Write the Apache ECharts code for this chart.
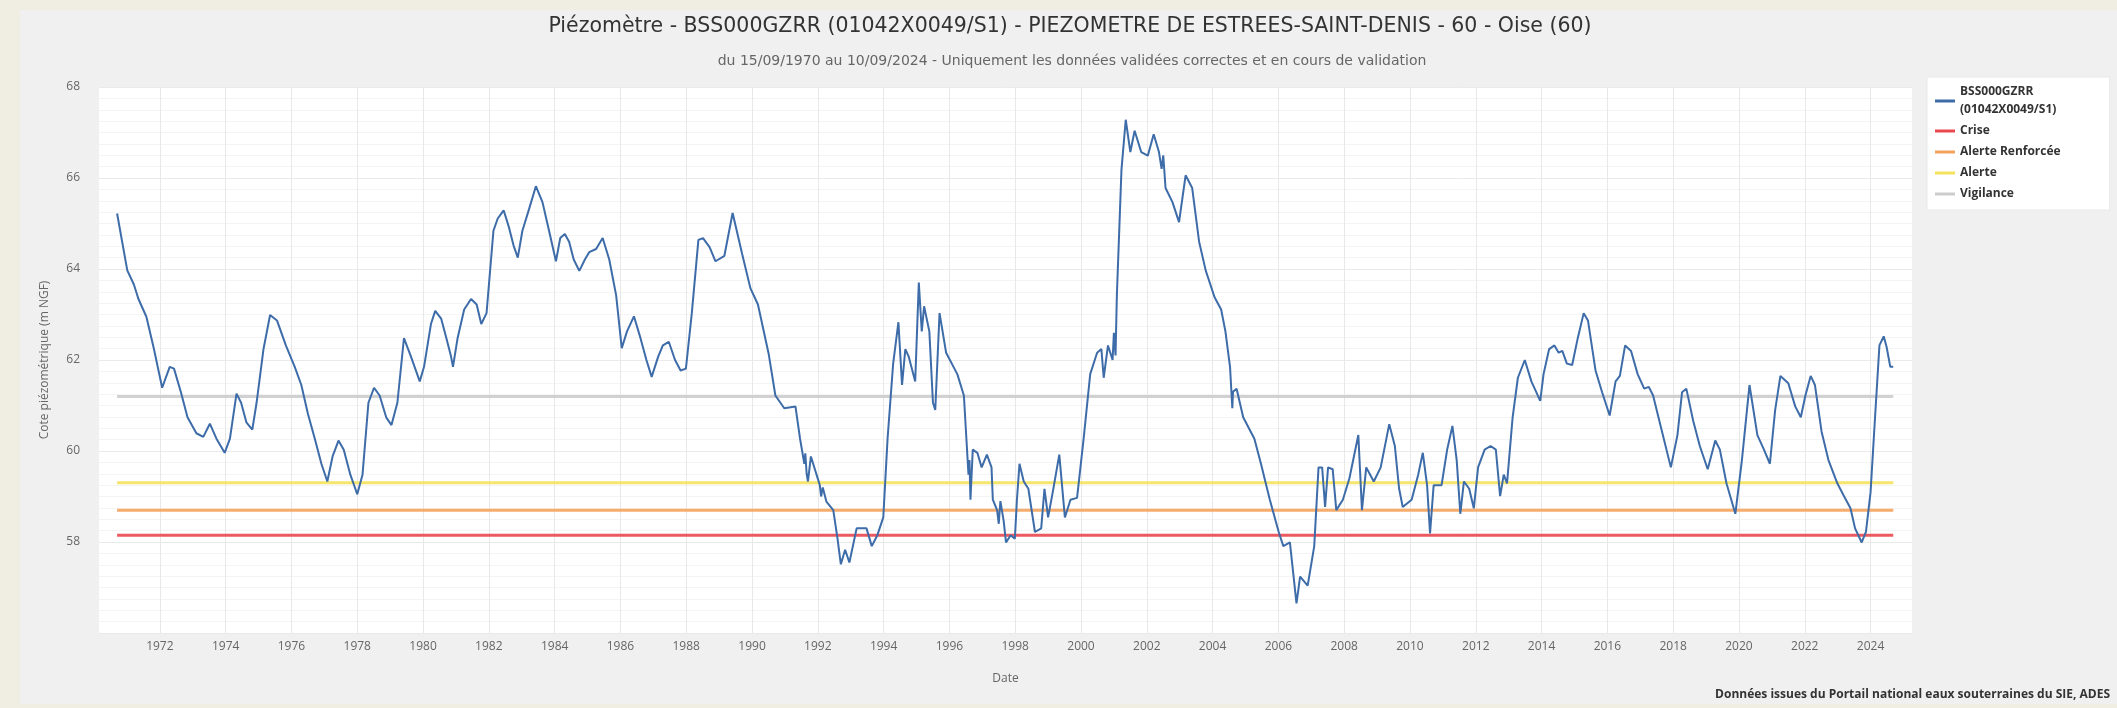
<!DOCTYPE html>
<html><head><meta charset="utf-8">
<script src="https://cdn.jsdelivr.net/npm/echarts@6/dist/echarts.min.js"></script>
<style>html,body{margin:0;padding:0;background:#f0f0f0}#c{width:2117px;height:708px}</style>
</head><body><div id="c"></div>
<script>
// ---- data ----
const seriesName = 'BSS000GZRR (01042X0049/S1)';
const years = [
1970.70,1971.01,1971.21,1971.35,1971.59,1971.82,1972.07,1972.30,1972.43,1972.64,1972.84,1973.11,1973.32,1973.52,1973.72,1973.97,
1974.13,1974.33,1974.47,1974.63,1974.81,1974.94,1975.15,1975.35,1975.56,1975.83,1976.10,1976.30,1976.50,1976.71,1976.91,1977.09,
1977.25,1977.43,1977.59,1977.79,1978.00,1978.16,1978.34,1978.51,1978.68,1978.88,1979.04,1979.22,1979.42,1979.63,1979.90,1980.03,
1980.24,1980.37,1980.55,1980.71,1980.85,1980.91,1981.05,1981.25,1981.46,1981.63,1981.77,1981.93,1982.14,1982.27,1982.45,1982.61,
1982.75,1982.88,1983.02,1983.22,1983.43,1983.63,1983.83,1984.04,1984.17,1984.31,1984.44,1984.58,1984.75,1984.92,1985.05,1985.26,
1985.46,1985.66,1985.87,1986.04,1986.20,1986.41,1986.61,1986.79,1986.95,1987.15,1987.29,1987.47,1987.66,1987.83,1987.99,1988.17,
1988.37,1988.51,1988.71,1988.89,1989.16,1989.41,1989.70,1989.95,1990.18,1990.51,1990.71,1990.98,1991.32,1991.46,1991.59,1991.62,
1991.66,1991.70,1991.79,1992.06,1992.10,1992.15,1992.26,1992.47,1992.60,1992.70,1992.83,1992.96,1993.18,1993.48,1993.64,1993.81,
1993.99,1994.12,1994.29,1994.45,1994.56,1994.66,1994.76,1994.96,1995.07,1995.16,1995.23,1995.39,1995.50,1995.57,1995.70,1995.90,
1996.24,1996.44,1996.58,1996.61,1996.64,1996.71,1996.85,1996.98,1997.14,1997.28,1997.32,1997.45,1997.50,1997.55,1997.65,1997.72,
1997.86,1997.99,1998.05,1998.13,1998.26,1998.40,1998.60,1998.79,1998.89,1999.00,1999.14,1999.34,1999.51,1999.68,1999.88,2000.08,
2000.28,2000.49,2000.62,2000.69,2000.82,2000.96,2001.00,2001.05,2001.09,2001.23,2001.36,2001.50,2001.63,2001.83,2002.03,2002.21,
2002.37,2002.45,2002.50,2002.57,2002.78,2002.98,2003.18,2003.38,2003.59,2003.79,2004.06,2004.26,2004.39,2004.53,2004.60,2004.62,
2004.73,2004.93,2005.27,2005.47,2005.74,2006.01,2006.15,2006.35,2006.55,2006.66,2006.89,2007.09,2007.22,2007.33,2007.42,2007.51,
2007.65,2007.76,2007.96,2008.16,2008.43,2008.54,2008.67,2008.90,2009.11,2009.37,2009.54,2009.67,2009.78,2010.05,2010.25,2010.39,
2010.52,2010.61,2010.72,2010.96,2011.13,2011.29,2011.42,2011.53,2011.64,2011.80,2011.94,2012.07,2012.27,2012.45,2012.61,2012.74,
2012.85,2012.95,2013.12,2013.28,2013.49,2013.69,2013.96,2014.06,2014.23,2014.39,2014.52,2014.63,2014.77,2014.93,2015.10,2015.28,
2015.41,2015.64,2015.84,2016.07,2016.25,2016.38,2016.54,2016.72,2016.92,2017.12,2017.26,2017.39,2017.66,2017.93,2018.13,2018.27,
2018.40,2018.61,2018.81,2019.05,2019.28,2019.42,2019.62,2019.89,2020.09,2020.32,2020.56,2020.76,2020.94,2021.10,2021.26,2021.50,
2021.71,2021.88,2022.02,2022.18,2022.31,2022.51,2022.72,2022.99,2023.19,2023.39,2023.53,2023.73,2023.86,2024.00,2024.13,2024.27,
2024.40,2024.49,2024.60,2024.69
];
const levels = [
65.22,63.97,63.66,63.34,62.95,62.24,61.39,61.85,61.81,61.29,60.74,60.39,60.31,60.60,60.27,59.96,
60.27,61.26,61.06,60.63,60.47,61.06,62.24,62.99,62.87,62.32,61.85,61.45,60.82,60.27,59.72,59.33,
59.88,60.23,60.03,59.48,59.05,59.48,61.06,61.39,61.22,60.74,60.57,61.06,62.48,62.08,61.53,61.85,
62.79,63.08,62.91,62.48,62.08,61.85,62.48,63.11,63.34,63.22,62.79,63.03,64.84,65.11,65.29,64.92,
64.52,64.25,64.84,65.31,65.82,65.47,64.84,64.17,64.68,64.77,64.60,64.21,63.96,64.21,64.37,64.44,
64.68,64.21,63.42,62.26,62.63,62.96,62.48,62.00,61.63,62.08,62.32,62.40,62.00,61.77,61.81,63.03,
64.64,64.68,64.48,64.17,64.29,65.23,64.33,63.58,63.22,62.12,61.22,60.94,60.98,60.27,59.72,59.95,
59.50,59.33,59.88,59.25,59.00,59.20,58.89,58.70,58.07,57.51,57.83,57.55,58.30,58.30,57.91,58.15,
58.54,60.27,61.92,62.83,61.45,62.24,62.08,61.53,63.70,62.63,63.18,62.63,61.06,60.90,63.03,62.16,
61.69,61.22,59.48,59.80,58.93,60.03,59.96,59.64,59.92,59.64,58.93,58.70,58.40,58.90,58.46,57.99,
58.15,58.07,58.90,59.72,59.33,59.17,58.22,58.30,59.17,58.54,59.09,59.92,58.54,58.93,58.97,60.27,
61.69,62.16,62.24,61.61,62.32,62.00,62.60,62.10,63.42,66.18,67.28,66.57,67.04,66.57,66.49,66.96,
66.57,66.20,66.50,65.78,65.47,65.03,66.06,65.78,64.60,63.97,63.38,63.11,62.63,61.85,60.94,61.30,
61.37,60.74,60.27,59.72,58.93,58.22,57.91,57.99,56.65,57.24,57.04,57.91,59.64,59.64,58.77,59.64,
59.60,58.70,58.93,59.40,60.35,58.70,59.64,59.33,59.64,60.59,60.11,59.17,58.77,58.93,59.48,59.96,
59.25,58.19,59.25,59.25,60.03,60.55,59.80,58.62,59.33,59.17,58.74,59.64,60.03,60.11,60.03,59.01,
59.48,59.29,60.74,61.61,62.00,61.53,61.10,61.69,62.24,62.32,62.16,62.20,61.92,61.89,62.48,63.03,
62.87,61.77,61.29,60.78,61.53,61.65,62.32,62.20,61.69,61.37,61.41,61.22,60.43,59.64,60.35,61.29,
61.37,60.66,60.11,59.60,60.23,60.03,59.29,58.62,59.80,61.45,60.35,60.03,59.72,60.90,61.65,61.49,
60.98,60.74,61.22,61.65,61.45,60.43,59.80,59.29,59.01,58.74,58.30,57.99,58.22,59.09,60.66,62.32,
62.52,62.28,61.85,61.85
];
const thresholdNames = ['Crise', 'Alerte Renforcée', 'Alerte', 'Vigilance'];
const thresholdValues = [58.15, 58.7, 59.3, 61.2];
const yearTicks = [1972,1974,1976,1978,1980,1982,1984,1986,1988,1990,1992,1994,1996,1998,2000,2002,2004,2006,2008,2010,2012,2014,2016,2018,2020,2022,2024];
const titleText = 'Piézomètre - BSS000GZRR (01042X0049/S1) - PIEZOMETRE DE ESTREES-SAINT-DENIS - 60 - Oise (60)';
const subtitleText = 'du 15/09/1970 au 10/09/2024 - Uniquement les données validées correctes et en cours de validation';
const creditText = 'Données issues du Portail national eaux souterraines du SIE, ADES';

// ---- chart ----
const FONT = '"Open Sans", "Noto Sans", sans-serif';
const TFONT = '"DejaVu Sans", Verdana, sans-serif';
const thresholdColors = ['#e8484e', '#f4a35c', '#f5e25c', '#cccccc'];
const mainData = years.map((y, i) => [y, levels[i]]);
const x0 = years[0], x1 = years[years.length - 1];

const series = [{
  name: seriesName, type: 'line', data: mainData, showSymbol: false, symbol: 'none',
  lineStyle: { width: 2, color: '#3d6ca9' }, itemStyle: { color: '#3d6ca9' }, z: 5
}];
thresholdNames.forEach((n, i) => {
  series.push({
    name: n, type: 'line', symbol: 'none', z: 3,
    data: [[x0, thresholdValues[i]], [x1, thresholdValues[i]]],
    lineStyle: { width: 3, color: thresholdColors[i], opacity: 0.9 },
    itemStyle: { color: thresholdColors[i] }
  });
});

const chart = echarts.init(document.getElementById('c'), null, { renderer: 'canvas' });
chart.setOption({
  animation: false,
  backgroundColor: '#f0f0f0',
  textStyle: { fontFamily: FONT },
  graphic: [
    { type: 'rect', left: 0, top: 0, shape: { width: 2117, height: 10 }, style: { fill: '#f0ede3' }, silent: true },
    { type: 'rect', left: 0, top: 0, shape: { width: 20, height: 708 }, style: { fill: '#f0ede3' }, silent: true },
    { type: 'rect', left: 0, top: 704, shape: { width: 2117, height: 4 }, style: { fill: '#f0ede3' }, silent: true }
  ],
  title: [
    { text: titleText, left: 1070, textAlign: 'center', top: 16, padding: 0,
      textStyle: { fontFamily: TFONT, fontSize: 20.5, fontWeight: 'normal', color: '#333' } },
    { text: subtitleText, left: 1072, textAlign: 'center', top: 54, padding: 0,
      textStyle: { fontFamily: TFONT, fontSize: 14, fontWeight: 'normal', color: '#666' } },
    { text: creditText, right: 7, top: 689, padding: 0,
      textStyle: { fontFamily: FONT, fontSize: 12, fontWeight: 'bold', color: '#333' } }
  ],
  legend: {
    orient: 'vertical', left: 1927, top: 77,
    padding: [6, 49, 7, 8],
    backgroundColor: '#ffffff', borderColor: '#e9e9e9', borderWidth: 1,
    itemWidth: 20, itemHeight: 3, itemGap: 3, icon: 'rect',
    data: [seriesName].concat(thresholdNames),
    formatter: n => n.replace(' (', '\n('),
    textStyle: { fontFamily: FONT, fontSize: 12, fontWeight: 'bold', color: '#333', lineHeight: 18 }
  },
  grid: { left: 99, right: 205, top: 87, bottom: 75, show: true, backgroundColor: '#ffffff', borderWidth: 0, containLabel: false },
  xAxis: {
    type: 'value', min: 1970.15, max: 2025.26,
    name: 'Date', nameLocation: 'middle', nameGap: 40,
    nameTextStyle: { fontFamily: FONT, fontSize: 12, color: '#666' },
    axisLine: { show: false }, axisTick: { show: false, customValues: yearTicks },
    axisLabel: { customValues: yearTicks, formatter: v => String(Math.round(v)), color: '#666', fontSize: 12, margin: 8, fontFamily: FONT },
    splitLine: { show: true, lineStyle: { color: '#e8e8e8', width: 1 } }
  },
  yAxis: {
    type: 'value', min: 56, max: 68, interval: 2,
    name: 'Cote piézométrique (m NGF)', nameLocation: 'middle', nameGap: 48, nameRotate: 90,
    nameTextStyle: { fontFamily: FONT, fontSize: 12, color: '#666' },
    axisLine: { show: false }, axisTick: { show: false },
    axisLabel: { color: '#666', fontSize: 12, margin: 19, showMinLabel: false, fontFamily: FONT },
    splitLine: { show: true, lineStyle: { color: '#eaeaea', width: 1 } },
    minorTick: { show: false, splitNumber: 8 },
    minorSplitLine: { show: true, lineStyle: { color: '#f4f4f4', width: 1 } }
  },
  series: series
});
</script>
</body></html>
